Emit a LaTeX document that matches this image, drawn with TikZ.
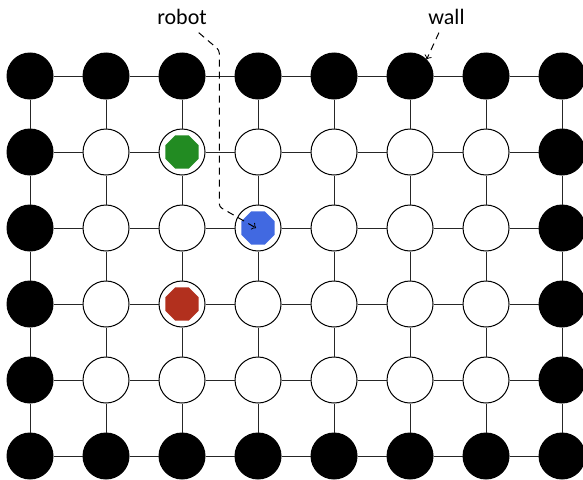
\documentclass[tikz,border=0pt]{standalone}
\usepackage{fontspec}
\setmainfont{Carlito}
\usetikzlibrary{shapes.geometric}

\definecolor{robotblue}{RGB}{65,105,225}
\definecolor{piecegreen}{RGB}{34,139,34}
\definecolor{piecered}{RGB}{178,48,30}

\tikzset{
  cell/.style={circle, draw=black, line width=0.5pt, fill=white,
    minimum size=23pt, inner sep=0pt},
  wallcell/.style={cell, fill=black},
  piece/.style={regular polygon, regular polygon sides=8,
    minimum size=17.9pt, inner sep=0pt},
  link/.style={black!85, line width=0.5pt},
  pointer/.style={->, line width=0.5pt, dash pattern=on 3.5pt off 2.5pt},
  lbl/.style={font=\fontsize{11}{13}\selectfont, inner sep=0pt}
}

\begin{document}
\begin{tikzpicture}[x=38pt, y=-38pt]
  \useasboundingbox (-0.395,-1) rectangle (7.276,5.303);
  % the board: walls on the rim, free cells inside
  \foreach \i in {0,...,7}
    \foreach \j in {0,...,5} {
      \ifnum\i=0 \def\kind{wallcell}\else
      \ifnum\i=7 \def\kind{wallcell}\else
      \ifnum\j=0 \def\kind{wallcell}\else
      \ifnum\j=5 \def\kind{wallcell}\else
      \def\kind{cell}\fi\fi\fi\fi
      \node[\kind] (n-\i-\j) at (\i,\j) {};
    }
  % links between neighbours
  \foreach \i in {0,...,6}
    \foreach \j in {0,...,5} {
      \pgfmathtruncatemacro{\k}{\i+1}
      \draw[link] (n-\i-\j) -- (n-\k-\j);
    }
  \foreach \i in {0,...,7}
    \foreach \j in {0,...,4} {
      \pgfmathtruncatemacro{\k}{\j+1}
      \draw[link] (n-\i-\j) -- (n-\i-\k);
    }
  % pieces
  \node[piece, fill=piecegreen] (gpiece) at (n-2-1) {};
  \node[piece, fill=piecered] (rpiece) at (n-2-3) {};
  \node[piece, fill=robotblue] (robot) at (n-3-2) {};
  % labels
  \node[lbl] (robotlbl) at (2,-0.78) {robot};
  \node[lbl] (walllbl) at (5.48,-0.78) {wall};
  \coordinate (rbend1) at (2.49,-0.34);
  \coordinate (rbend2) at (2.49,1.72);
  \draw[pointer, rounded corners=1.5pt] (2.22,-0.57) -- (rbend1) -- (rbend2)
    -- ([shift={(-1pt,0pt)}]robot.center);
  \draw[pointer] (5.38,-0.57) -- (n-5-0.45);
\end{tikzpicture}
\end{document}
